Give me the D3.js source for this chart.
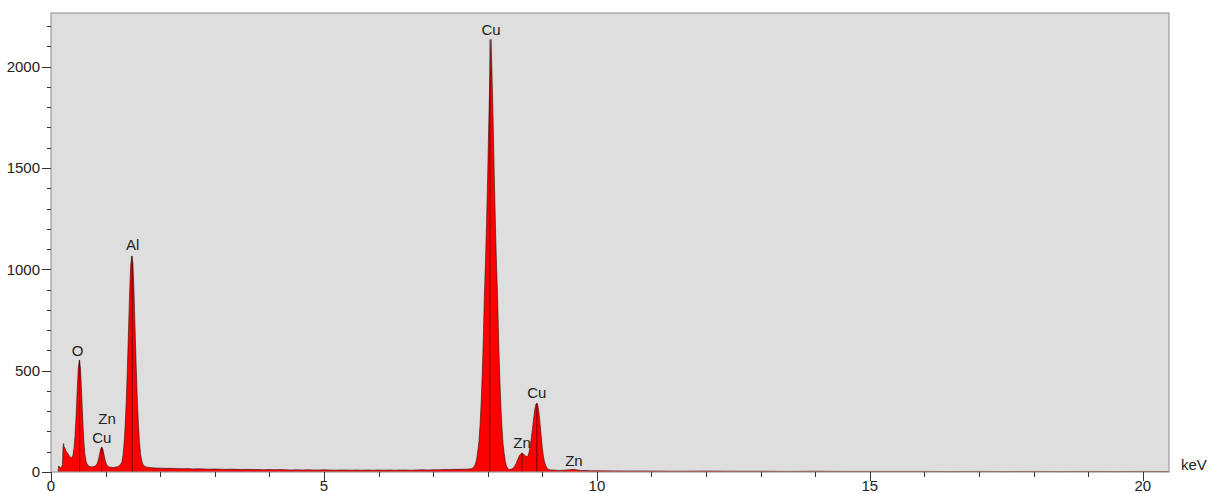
<!DOCTYPE html>
<html>
<head>
<meta charset="utf-8">
<script src="https://cdn.jsdelivr.net/npm/d3@7"></script>
<style>
  html, body { margin: 0; padding: 0; background: #ffffff; }
  svg { display: block; }
  text { font-family: "Liberation Sans", Arial, sans-serif; fill: #222; }
</style>
</head>
<body>
<script>
// ---- Data ----
const energy = [
  0.13, 0.14, 0.16, 0.18, 0.20, 0.21, 0.22, 0.23, 0.24, 0.26, 0.28, 0.30, 0.32, 0.34, 0.36, 0.38,
  0.40, 0.42, 0.44, 0.46, 0.48, 0.50, 0.52, 0.54, 0.56, 0.58, 0.60, 0.62, 0.64, 0.66, 0.68, 0.70,
  0.72, 0.74, 0.76, 0.78, 0.81, 0.83, 0.85, 0.87, 0.89, 0.91, 0.93, 0.95, 0.97, 0.99, 1.01, 1.03,
  1.05, 1.08, 1.11, 1.14, 1.17, 1.20, 1.23, 1.26, 1.28, 1.30, 1.32, 1.34, 1.36, 1.38, 1.40, 1.42,
  1.44, 1.46, 1.48, 1.50, 1.52, 1.54, 1.56, 1.58, 1.60, 1.62, 1.64, 1.66, 1.68, 1.70, 1.72, 1.76,
  1.80, 1.90, 2.00, 2.10, 2.20, 2.30, 2.40, 2.50, 2.60, 2.70, 2.80, 2.90, 3.00, 3.10, 3.20, 3.30,
  3.40, 3.50, 3.60, 3.70, 3.80, 3.90, 4.00, 4.10, 4.20, 4.30, 4.40, 4.50, 4.60, 4.70, 4.80, 4.90,
  5.00, 5.10, 5.20, 5.30, 5.40, 5.50, 5.60, 5.70, 5.80, 5.90, 6.00, 6.10, 6.20, 6.30, 6.40, 6.50,
  6.60, 6.70, 6.80, 6.90, 7.00, 7.10, 7.20, 7.30, 7.40, 7.50, 7.60, 7.66, 7.70, 7.74, 7.76, 7.78,
  7.80, 7.82, 7.84, 7.86, 7.88, 7.90, 7.92, 7.94, 7.96, 7.98, 8.00, 8.02, 8.04, 8.06, 8.08, 8.10,
  8.12, 8.14, 8.16, 8.18, 8.20, 8.22, 8.24, 8.26, 8.28, 8.30, 8.32, 8.34, 8.36, 8.38, 8.40, 8.42,
  8.44, 8.46, 8.48, 8.50, 8.52, 8.54, 8.56, 8.58, 8.60, 8.62, 8.64, 8.66, 8.68, 8.70, 8.72, 8.74,
  8.76, 8.78, 8.80, 8.82, 8.84, 8.86, 8.88, 8.90, 8.92, 8.94, 8.96, 8.98, 9.00, 9.02, 9.04, 9.06,
  9.08, 9.10, 9.12, 9.14, 9.20, 9.30, 9.40, 9.50, 9.56, 9.62, 9.70, 9.80, 9.90, 10.0, 10.5, 11.0,
  11.5, 12.0, 12.5, 13.0, 13.5, 14.0, 14.5, 15.0, 15.5, 16.0, 16.5, 17.0, 17.5, 18.0, 18.5, 19.0,
  19.5, 20.0, 20.48
];
const counts = [
  0, 30, 25, 18, 28, 35, 120, 140, 125, 115, 100, 95, 85, 78, 72, 70,
  80, 114, 176, 278, 403, 515, 553, 510, 398, 266, 157, 89, 54, 39, 32, 28,
  26, 25, 26, 27, 30, 34, 44, 62, 88, 113, 123, 112, 87, 61, 42, 32,
  27, 24, 23, 22, 24, 25, 27, 35, 40, 50, 85, 145, 235, 360, 520, 700,
  880, 1020, 1066, 1030, 890, 705, 525, 365, 240, 150, 90, 58, 40, 32, 27, 24,
  22, 20, 19, 18, 18, 17, 16, 17, 15, 16, 15, 14, 15, 14, 13, 14,
  13, 12, 13, 12, 12, 11, 12, 11, 12, 11, 10, 11, 10, 11, 10, 10,
  11, 10, 9, 10, 10, 9, 10, 9, 10, 9, 10, 9, 10, 9, 10, 10,
  9, 10, 11, 10, 11, 11, 12, 12, 13, 13, 14, 15, 16, 22, 32, 44,
  67, 107, 152, 232, 342, 482, 662, 882, 1042, 1242, 1472, 1730, 1950, 2135, 1950, 1720,
  1460, 1230, 1030, 870, 650, 470, 330, 220, 140, 95, 55, 32, 20, 14, 13, 13,
  15, 18, 24, 32, 42, 55, 68, 80, 88, 93, 92, 88, 82, 78, 76, 82,
  100, 130, 170, 215, 262, 305, 332, 340, 326, 290, 235, 175, 118, 78, 50, 33,
  23, 16, 12, 10, 10, 8, 9, 11, 13, 11, 8, 7, 6, 6, 5, 5,
  4, 5, 4, 4, 3, 4, 3, 3, 3, 3, 2, 3, 2, 3, 2, 3,
  2, 3, 2
];

// Peak identification labels
const peakNames   = ["O", "Zn", "Cu", "Al", "Cu", "Zn", "Cu", "Zn"];
const peakEnergy  = [0.485, 1.026, 0.93, 1.497, 8.06, 8.63, 8.90, 9.58];
const peakCounts  = [548, 210, 118, 1071, 2132, 94, 340, 5];

// Element line markers (vertical lines)
const markerEnergy = [0.525, 0.93, 1.487, 8.04, 8.63, 8.90];
const markerCounts = [553, 123, 1066, 2135, 92, 340];

// Axis ticks
const xMajorTicks = [0, 5, 10, 15, 20];
const xMinorTicks = d3.range(0, 21, 1);
const yMajorTicks = [0, 500, 1000, 1500, 2000];
const yMinorTicks = d3.range(0, 2300, 100);
const xUnit = "keV";

// ---- Layout ----
const W = 1212, H = 493;
const mLeft = 51, mRight = 1169, mTop = 13, mBottom = 472;

const svg = d3.select("body").append("svg").attr("width", W).attr("height", H);

const x = d3.scaleLinear().domain([0, 20.48]).range([mLeft, mRight]);
const y = d3.scaleLinear().domain([0, 2265]).range([mBottom, mTop]);

// plot background
svg.append("rect")
  .attr("x", mLeft).attr("y", mTop)
  .attr("width", mRight - mLeft).attr("height", mBottom - mTop)
  .attr("fill", "#dedede");

const data = energy.map((e, i) => ({ e, c: counts[i] }));

// spectrum fill
svg.append("path")
  .datum(data)
  .attr("fill", "#ff0000")
  .attr("d", d3.area().x(d => x(d.e)).y0(y(0)).y1(d => y(d.c)));

// outline
svg.append("path")
  .datum(data)
  .attr("fill", "none")
  .attr("stroke", "#3a0505")
  .attr("stroke-width", 0.8)
  .attr("stroke-opacity", 0.75)
  .attr("d", d3.line().x(d => x(d.e)).y(d => y(d.c)));

// marker lines
svg.append("g").selectAll("line")
  .data(markerEnergy)
  .join("line")
  .attr("x1", d => x(d)).attr("x2", d => x(d))
  .attr("y1", y(0)).attr("y2", (d, i) => y(markerCounts[i]))
  .attr("stroke", "#200000")
  .attr("stroke-width", 0.8)
  .attr("stroke-opacity", 0.8);

// frame
svg.append("rect")
  .attr("x", mLeft).attr("y", mTop)
  .attr("width", mRight - mLeft).attr("height", mBottom - mTop)
  .attr("fill", "none")
  .attr("stroke", "#9a9a9a")
  .attr("stroke-width", 1.2);

// y axis ticks
const yg = svg.append("g");
yg.selectAll("line.minor").data(yMinorTicks).join("line").attr("class", "minor")
  .attr("x1", mLeft - 4).attr("x2", mLeft)
  .attr("y1", d => Math.round(y(d)) + 0.5).attr("y2", d => Math.round(y(d)) + 0.5)
  .attr("stroke", "#333").attr("stroke-width", 1);
yg.selectAll("line.major").data(yMajorTicks).join("line").attr("class", "major")
  .attr("x1", mLeft - 9).attr("x2", mLeft)
  .attr("y1", d => Math.round(y(d)) + 0.5).attr("y2", d => Math.round(y(d)) + 0.5)
  .attr("stroke", "#333").attr("stroke-width", 1);
yg.selectAll("text").data(yMajorTicks).join("text")
  .attr("x", mLeft - 11).attr("y", d => y(d))
  .attr("dy", "0.36em")
  .attr("text-anchor", "end")
  .attr("font-size", 15)
  .text(d => d);

// x axis ticks
const xg = svg.append("g");
xg.selectAll("line.minor").data(xMinorTicks).join("line").attr("class", "minor")
  .attr("x1", d => Math.round(x(d)) + 0.5).attr("x2", d => Math.round(x(d)) + 0.5)
  .attr("y1", mBottom).attr("y2", mBottom + 5)
  .attr("stroke", "#333").attr("stroke-width", 1);
xg.selectAll("line.major").data(xMajorTicks).join("line").attr("class", "major")
  .attr("x1", d => Math.round(x(d)) + 0.5).attr("x2", d => Math.round(x(d)) + 0.5)
  .attr("y1", mBottom).attr("y2", mBottom + 9)
  .attr("stroke", "#333").attr("stroke-width", 1);
xg.selectAll("text").data(xMajorTicks).join("text")
  .attr("x", d => x(d)).attr("y", 491)
  .attr("text-anchor", "middle")
  .attr("font-size", 15)
  .text(d => d);

svg.append("text")
  .attr("x", 1181).attr("y", 470)
  .attr("font-size", 15)
  .text(xUnit);

// peak labels
svg.append("g").selectAll("text")
  .data(peakNames)
  .join("text")
  .attr("x", (d, i) => x(peakEnergy[i]))
  .attr("y", (d, i) => y(peakCounts[i]) - 5)
  .attr("text-anchor", "middle")
  .attr("font-size", 15)
  .text(d => d);
</script>
</body>
</html>
